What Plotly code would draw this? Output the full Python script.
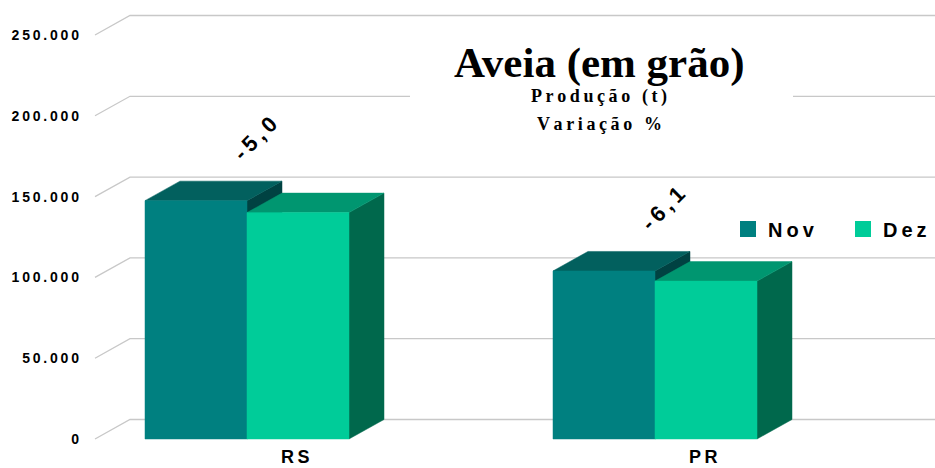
import plotly.graph_objects as go

# ---------------- data ----------------
categories = ["RS", "PR"]
series_names = ["Nov", "Dez"]
nov_values = [147500, 104000]
dez_values = [140100, 97700]
variation_pct = [-5.0, -6.1]
y_tick_values = [0, 50000, 100000, 150000, 200000, 250000]
title_text = "Aveia (em grão)"
subtitle_lines = ["Produção (t)", "Variação %"]

# ---------------- styles / layout geometry ----------------
# all *_S values below are in screen pixels (page body margin removed in post_script)
OFF = 0
SCREEN_W, SCREEN_H = 935, 468
W, H = SCREEN_W - OFF, SCREEN_H - OFF
PLOT_LEFT_S, PLOT_BOTTOM_S = 88, 446
ML = PLOT_LEFT_S - OFF
MB = SCREEN_H - PLOT_BOTTOM_S
PLOT_W = W - ML
PLOT_H = H - MB

X0_S, UNIT_PX = 247, 408           # screen x of category 0 centre, pixels per category
Y0_S, YSCALE = 439, 404 / 250000   # screen y of value 0, pixels per unit


def px_to_u(sx):
    return (sx - X0_S) / UNIT_PX


def py_to_v(sy):
    return (Y0_S - sy) / YSCALE


def paper_x(sx):
    return (sx - OFF - ML) / PLOT_W


def paper_y(sy):
    return (PLOT_H - (sy - OFF)) / PLOT_H


THIN = "\u2009"


def spaced(s):
    return THIN.join(list(s))


DX = 35 / UNIT_PX
DY = 19.5 / YSCALE
BW = 0.25
WALL_L = px_to_u(130)
X_MIN, X_MAX = px_to_u(PLOT_LEFT_S), px_to_u(SCREEN_W)
Y_MIN, Y_MAX = py_to_v(PLOT_BOTTOM_S), py_to_v(OFF)

colors = {
    "Nov": {"front": "#008080", "top": "#02605E", "side": "#004242"},
    "Dez": {"front": "#00CC99", "top": "#009670", "side": "#00684C"},
}
GRID = "#C8C8C8"
SANS = "Liberation Sans, Arial"
SERIF = "Liberation Serif, Times New Roman"

fig = go.Figure()

# back-wall gridlines with diagonal stubs
gx, gy = [], []
for t in y_tick_values:
    gx += [WALL_L - DX, WALL_L, X_MAX, None]
    gy += [t, t + DY, t + DY, None]
fig.add_trace(go.Scatter(x=gx, y=gy, mode="lines", line=dict(color=GRID, width=1.3),
                         hoverinfo="skip", showlegend=False))


def face(xs, ys, color):
    fig.add_trace(go.Scatter(x=xs + [xs[0]], y=ys + [ys[0]], mode="lines", fill="toself",
                             fillcolor=color, line=dict(color=color, width=0.5),
                             hoverinfo="skip", showlegend=False))


series = [("Nov", nov_values, -BW), ("Dez", dez_values, 0.0)]
for i, cat in enumerate(categories):
    for name, vals, off in series:
        v = vals[i]
        x0 = i + off
        x1 = x0 + BW
        c = colors[name]
        face([x1, x1, x1 + DX, x1 + DX], [0, v, v + DY, DY], c["side"])
        face([x0, x1, x1 + DX, x0 + DX], [v, v, v + DY, v + DY], c["top"])
        face([x0, x1, x1, x0], [0, 0, v, v], c["front"])

# legend entries (one legend box per series, to reproduce the wide spacing)
legend_ids = ["legend", "legend2"]
for name, lid in zip(series_names, legend_ids):
    fig.add_trace(go.Scatter(x=[None], y=[None], mode="markers", name=spaced(name),
                             marker=dict(symbol="square", size=17, color=colors[name]["front"]),
                             showlegend=True, legend=lid))

annotations = []
# variation labels
for i, pct in enumerate(variation_pct):
    txt = f"{pct:.1f}".replace(".", ",")
    annotations.append(dict(x=i + 0.02, y=max(nov_values[i], dez_values[i]), xref="x", yref="y",
                            text=spaced(txt), showarrow=False, textangle=-45, yshift=62,
                            font=dict(family=SANS, size=22, color="black", weight="bold")))

# category labels
for i, cat in enumerate(categories):
    annotations.append(dict(x=i + 0.118, y=paper_y(SCREEN_H), xref="x", yref="paper",
                            text=spaced(cat), showarrow=False, xanchor="center", yanchor="bottom",
                            borderpad=0,
                            font=dict(family=SANS, size=18, color="black", weight="bold")))

# title box + titles
fig.add_shape(type="rect", xref="paper", yref="paper", x0=paper_x(410), x1=paper_x(793),
              y0=paper_y(150), y1=paper_y(32), fillcolor="white", line=dict(width=0),
              layer="above")
annotations.append(dict(x=paper_x(599), y=paper_y(63), xref="paper", yref="paper",
                        text=title_text, showarrow=False, xanchor="center", yanchor="middle",
                        font=dict(family=SERIF, size=43, color="black", weight="bold")))
for line, py in zip(subtitle_lines, [97, 124]):
    annotations.append(dict(x=paper_x(599), y=paper_y(py), xref="paper", yref="paper",
                            text=spaced(line), showarrow=False, xanchor="center", yanchor="middle",
                            font=dict(family=SERIF, size=18, color="black", weight="bold")))

legend_style = dict(orientation="h", xanchor="left", yanchor="middle", bgcolor="rgba(0,0,0,0)",
                    font=dict(family=SANS, size=20, color="black", weight="bold"))

fig.update_layout(
    width=W, height=H,
    margin=dict(l=ML, r=0, t=0, b=MB, autoexpand=False),
    paper_bgcolor="white", plot_bgcolor="white",
    showlegend=True,
    legend=dict(x=paper_x(728), y=paper_y(229), **legend_style),
    legend2=dict(x=paper_x(843), y=paper_y(229), **legend_style),
    annotations=annotations,
    xaxis=dict(range=[X_MIN, X_MAX], showgrid=False, zeroline=False, showline=False,
               showticklabels=False, ticks="", fixedrange=True),
    yaxis=dict(range=[Y_MIN, Y_MAX], showgrid=False, zeroline=False, showline=False,
               tickmode="array", tickvals=y_tick_values,
               ticktext=[spaced(f"{t:,}".replace(",", ".")) for t in y_tick_values],
               ticks="", ticklabelstandoff=8,
               tickfont=dict(family=SANS, size=14, color="black", weight="bold"),
               fixedrange=True),
)

fig.write_html("out.html", config={"displayModeBar": False},
               post_script="document.body.style.margin='0';document.body.style.overflow='hidden';")
